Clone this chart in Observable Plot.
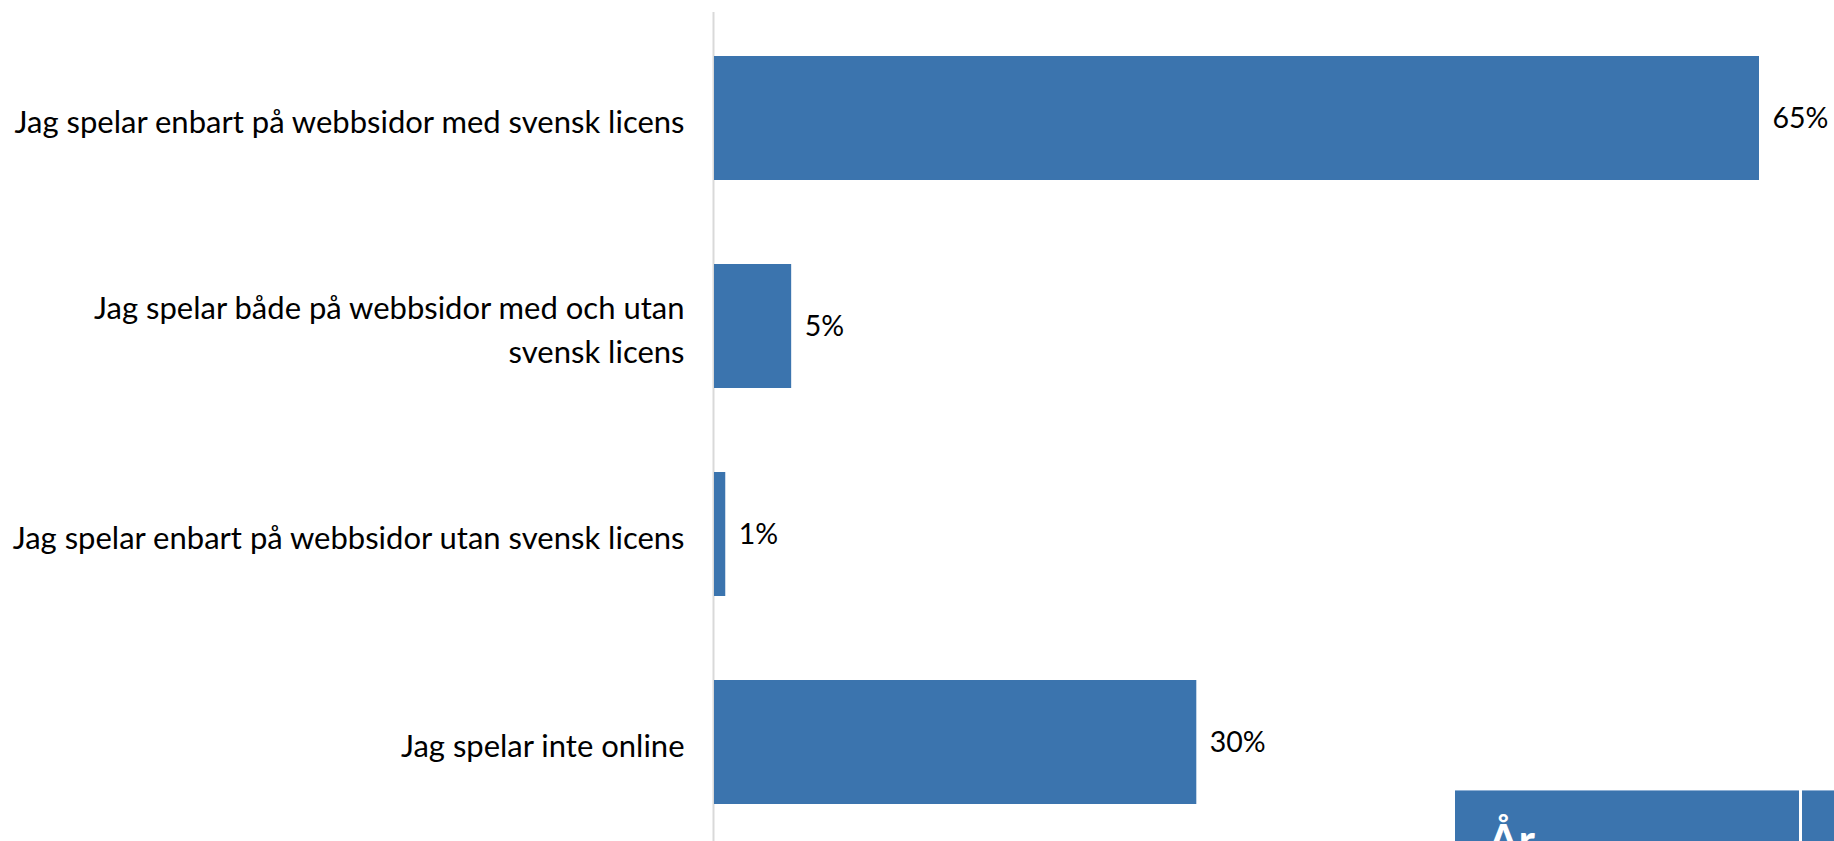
<!DOCTYPE html>
<html>
<head>
<meta charset="utf-8">
<script src="https://cdn.jsdelivr.net/npm/d3@7"></script>
<script src="https://cdn.jsdelivr.net/npm/@observablehq/plot@0.6"></script>
<style>
  html, body { margin: 0; padding: 0; background: #fff; overflow: hidden; }
  #wrap { position: relative; width: 1834px; height: 841px; overflow: hidden; }
  .cell { position: absolute; background: #3b74ae; border-top: 1px solid #8fb0d4; }
  .cell span { position: absolute; color: #fff; font-family: Lato, sans-serif; font-weight: 700; font-size: 44px; line-height: 1; }
</style>
</head>
<body>
<div id="wrap"></div>
<script>
const categories = [
  "Jag spelar enbart på webbsidor med svensk licens",
  "Jag spelar både på webbsidor med och utan\nsvensk licens",
  "Jag spelar enbart på webbsidor utan svensk licens",
  "Jag spelar inte online"
];
const values = [65, 4.8, 0.7, 30];
const valueLabels = ["65%", "5%", "1%", "30%"];
const tableHeader = "År";

const data = categories.map((c, i) => ({category: c, value: values[i], label: valueLabels[i]}));
const FONT = "Lato, sans-serif";

const chart = Plot.plot({
  width: 1834,
  height: 841,
  marginLeft: 714,
  marginRight: 75,
  marginTop: 12,
  marginBottom: 0,
  style: {fontFamily: FONT, background: "#fff", overflow: "hidden"},
  x: {domain: [0, 65], axis: null},
  y: {domain: categories, range: [12, 847], paddingInner: 0.405, paddingOuter: 0.207, axis: null},
  marks: [
    Plot.ruleX([0], {stroke: "#d9d9d9", strokeWidth: 2, dx: -1}),
    Plot.barX(data, {x: "value", y: "category", fill: "#3b74ae"}),
    Plot.text(data, {x: "value", y: "category", text: "label", textAnchor: "start", dx: 13, fontSize: 28.5, fill: "#000", fontFamily: FONT}),
    Plot.axisY({tickSize: 0, tickPadding: 30, fontSize: 31, fill: "#000", lineHeight: 1.43, fontFamily: FONT, label: null})
  ]
});
const wrap = document.getElementById("wrap");
wrap.appendChild(chart);

const c1 = document.createElement("div");
c1.className = "cell";
c1.style.cssText = "left:1455px; top:790px; width:344px; height:80px;";
const sp = document.createElement("span");
sp.textContent = tableHeader;
sp.style.cssText = "left:33px; top:26px;";
c1.appendChild(sp);
wrap.appendChild(c1);
const c2 = document.createElement("div");
c2.className = "cell";
c2.style.cssText = "left:1802px; top:790px; width:40px; height:80px;";
wrap.appendChild(c2);
</script>
</body>
</html>
